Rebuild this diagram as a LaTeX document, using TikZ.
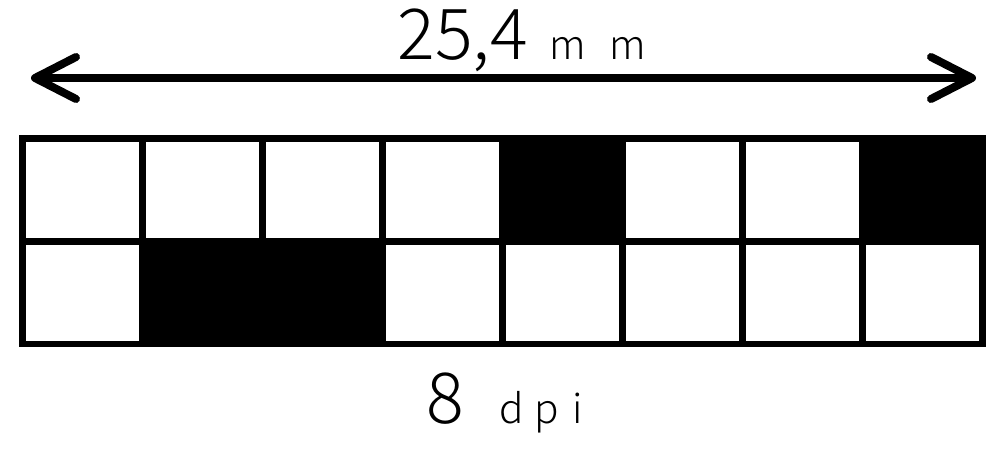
\documentclass[tikz,border=0pt]{standalone}
\usepackage{fontspec}
\setmainfont{Noto Sans CJK JP Light}
\usetikzlibrary{arrows.meta}

\begin{document}
\begin{tikzpicture}[% pixel-like units, y grows downwards
			x=0.02cm,y=-0.02cm,
			every node/.style={
				inner sep=0pt,	% text sits right on its anchor
				outer sep=0pt
			},
			gridline/.style={line width=0.14cm,line cap=rect},
			blackcell/.style={fill=black},
			dimline/.style={line width=0.16cm,>={Straight Barb[length=0.82cm,width=0.84cm,round]},<->}
		]
		\useasboundingbox (0,0) rectangle (1001,449);
		% black pixels: column/row
		\foreach \c/\r in {5/1,8/1,2/2,3/2}
			\fill[blackcell] ({22.5+120*(\c-1)},{138.5+102.75*(\r-1)}) rectangle ++(120,102.75);
		% grid
		\draw[gridline] (22.5,138.5) rectangle (982.5,344);
		\draw[gridline] (22.5,241.25) -- (982.5,241.25);
		\foreach \c in {1,...,7}
			\draw[gridline] ({22.5+120*\c},138.5) -- ({22.5+120*\c},344);
		% width arrow
		\coordinate (L) at (31,78);
		\coordinate (R) at (976,78);
		\draw[dimline] (L) -- (R);
		\node[anchor=base](size) at (522,60){\fontsize{40}{40}\selectfont 25,4\hspace{0.3em}\fontsize{23}{23}\selectfont m\hspace{0.6em}m};
		\node[anchor=base](res) at (505,423){\fontsize{40}{40}\selectfont 8\hspace{0.5em}\fontsize{23}{23}\selectfont d\hspace{0.25em}p\hspace{0.35em}i};
	\end{tikzpicture}
\end{document}
